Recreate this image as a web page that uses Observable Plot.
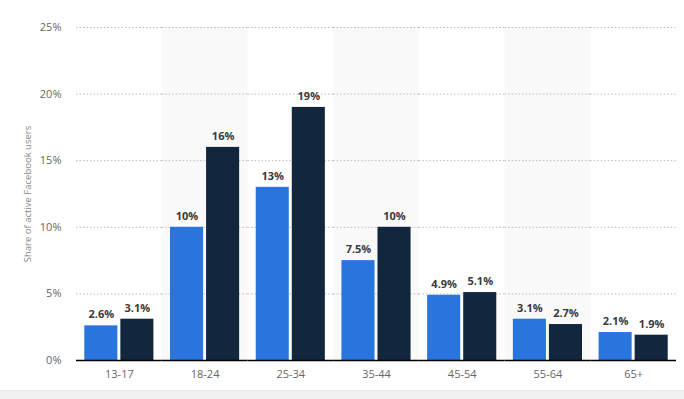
<!DOCTYPE html>
<html>
<head>
<meta charset="utf-8">
<script src="https://cdn.jsdelivr.net/npm/d3@7"></script>
<script src="https://cdn.jsdelivr.net/npm/@observablehq/plot@0.6"></script>
<style>
  html, body { margin: 0; padding: 0; background: #fff; }
  #chart svg { display: block; }
  #footer { height: 9px; background: #f1f1f1; border-top: 1px solid #e6e6e6; }
</style>
</head>
<body>
<div id="chart"></div>
<div id="footer"></div>
<script>
const ages = ["13-17", "18-24", "25-34", "35-44", "45-54", "55-64", "65+"];
const seriesNames = ["Female", "Male"];
const femaleValues = [2.6, 10, 13, 7.5, 4.9, 3.1, 2.1];
const maleValues = [3.1, 16, 19, 10, 5.1, 2.7, 1.9];
const yTicks = [0, 5, 10, 15, 20, 25];
const shadedAges = ["18-24", "35-44", "55-64"];
const yLabel = "Share of active Facebook users";

const data = ages.flatMap((age, i) => [
  {age, series: seriesNames[0], value: femaleValues[i]},
  {age, series: seriesNames[1], value: maleValues[i]}
]);

const chart = Plot.plot({
  width: 684,
  height: 390,
  marginLeft: 76,
  marginRight: 8,
  marginTop: 27,
  marginBottom: 30,
  style: {fontFamily: "'Open Sans', sans-serif", fontSize: "11px", color: "#666", background: "#fff"},
  fx: {domain: ages, padding: 0, round: false, label: null, axis: null},
  x: {domain: seriesNames, paddingInner: 0.083, paddingOuter: 0.23, round: false, axis: null},
  y: {domain: [0, 25], axis: null},
  color: {domain: seriesNames, range: ["#2876dd", "#12263e"]},
  marks: [
    Plot.rectY(shadedAges, {fx: d => d, y1: 0, y2: 25, fill: "#f9f9f9"}),
    Plot.gridY(yTicks.filter(t => t > 0), {stroke: "#bbb", strokeOpacity: 1, strokeDasharray: "1.5,2"}),
    Plot.barY(data, {fx: "age", x: "series", y: "value", fill: "series"}),
    Plot.text(data, {fx: "age", x: "series", y: "value", text: d => d.value + "%", dy: -11,
      fill: "#3a3a3a", fontWeight: "bold", fontSize: 11}),
    Plot.ruleY([0], {stroke: "#000", strokeWidth: 1.5}),
    Plot.axisFx({anchor: "bottom", tickSize: 0, tickPadding: 10, label: null, fill: "#666", fontSize: 11}),
    Plot.axisY({ticks: yTicks, tickFormat: d => d + "%", tickSize: 0, tickPadding: 15, label: null, fill: "#666", fontSize: 11}),
    Plot.axisY({ticks: [], tickSize: 0, label: yLabel, labelArrow: "none", labelAnchor: "center", labelOffset: 52, fill: "#888", fontSize: 9.5})
  ]
});
document.getElementById("chart").appendChild(chart);
</script>
</body>
</html>
